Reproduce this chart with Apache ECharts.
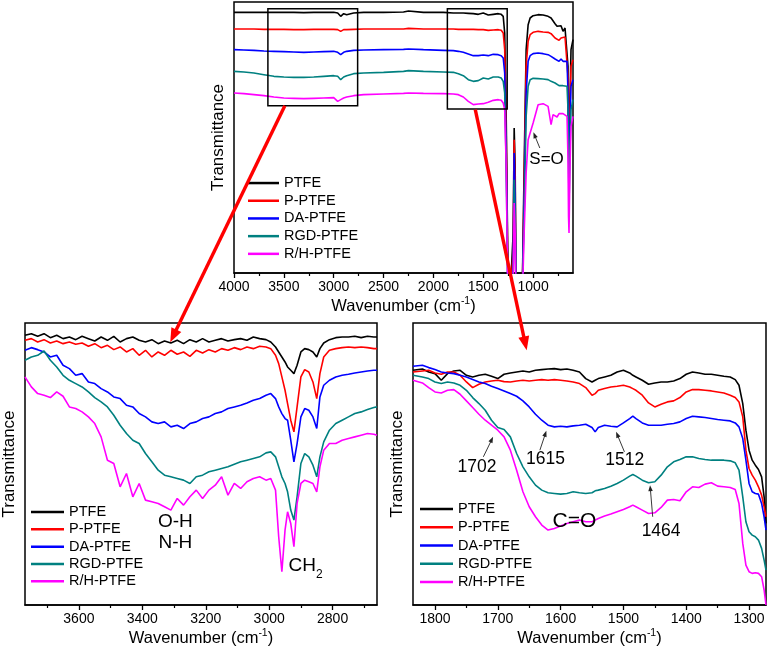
<!DOCTYPE html>
<html><head><meta charset="utf-8">
<script src="https://cdn.jsdelivr.net/npm/echarts@6/dist/echarts.min.js"></script>
<style>html,body{margin:0;padding:0;background:#fff}#c{width:767px;height:651px}</style>
</head><body><div id="c"></div>
<script>
// ---------- DATA ----------
const seriesNames = ['PTFE','P-PTFE','DA-PTFE','RGD-PTFE','R/H-PTFE'];
const seriesColors = ['#000000','#ff0000','#0000ff','#008080','#ff00ff'];

// Top panel: full spectrum (wavenumber, cm-1) / transmittance (a.u., offset)
const topWavenumbers = [4000,3900,3800,3700,3600,3500,3400,3300,3200,3100,3000,2960,2930,2900,2870,2850,2800,2700,2500,2300,2250,2100,1900,1800,1750,1700,1650,1600,1550,1500,1450,1400,1350,1320,1300,1285,1270,1255,1240,1220,1200,1190,1180,1170,1150,1130,1110,1090,1070,1050,1030,1000,950,900,850,820,800,780,760,740,720,700,680,660,650,645,640,630,620,600];
const topPTFE = [86.2,86.2,86.2,86.2,86.2,86.2,86.2,86.1,86.2,86.2,86.2, 86,85,85.8,85.5,85.2,86,86.2,86.2,86.3,86.6,86.2, 86.2,86,86,86,85.9,85.8,85.6,86,85.4,85.6,85.8,85.6, 85,80,55,15,-5,-5,20,51.5,40,-5,-5,-5,0,40,75,82.5,84.5,85.2,85.5,85.4,85,84.5,84,82.8,82,81.5,82.2,80.5,81.5,81,70,55,40,60,75,78];
const topPPTFE = [81.2,81.2,81.2,81.1,81.1,81.1,81,81,81.1,81.1,81.1, 81,80.5,81,81,80.7,81.1,81.2,81.2,81.2,81.4,81.2, 81.2,81.2,81.1,81.1,81.1,81.1,81,81,80.8,80.9,81,80.8, 80,75,50,12,-5,-5,15,48,35,-5,-5,-5,0,35,70,77.5,79.5,80.2,80.5,80.3,80.2,79.8,79.2,78.5,78.2,77.8,78.5,78,78.8,78.2,67,52,37,57,70,72];
const topDAPTFE = [75,74.9,74.8,74.6,74.5,74.4,74.3,74.2,74.3,74.4,74.5, 74.2,73.5,74.2,74.5,74.3,74.8,74.9,75,75.1,75.2,75, 74.8,74.7,74.5,74.2,73.7,73.2,73.2,73.4,73.2,73.6,73.5,73.2, 72.5,68,45,8,-5,-5,10,44,30,-5,-5,-5,0,30,62,71.5,73.2,73.8,74,73.8,73.5,73,72.8,72.2,72,71.5,72.2,71.5,72,71.5,62,48,34,52,64,66];
const topRGDPTFE = [68.5,68.3,68,67.5,67,66.8,66.7,66.7,66.8,67,67.2, 67,66,66.8,67.2,67.2,67.8,68,68.2,68.5,68.7,68.5, 68.3,68.2,67.8,67.2,66,65.5,65.7,66.5,66.2,66.8,66.8,66.5, 65.5,62,40,5,-5,-5,5,36,25,-5,-5,-5,0,25,55,64,66,66.4,66.3,66.2,66,65.5,65.2,65,64.5,64.2,64.8,64.2,64.5,64,57,42,28,45,57,60];
const topRHPTFE = [62,61.8,61.5,61.2,60.8,60.5,60.4,60.3,60.4,60.5,60.6, 59.5,60,60.5,60.8,60.7,61.2,61.5,61.7,61.9,62,61.9, 61.8,61.7,61.5,60.8,59.5,58.5,58.7,58.8,59.2,59.8,60,59.8, 59,57,40,3,-5,-5,5,29,20,-5,-5,-5,-2,20,38,48,50,53,58.5,58.8,58,52.5,55.5,56,54.8,55.8,55.5,55.8,55.5,55,42,25,20,40,52,55];

// Bottom-left panel: 3770-2660 cm-1
const leftWavenumbers = [3770,3750,3730,3710,3690,3670,3650,3630,3610,3590,3570,3550,3530,3510,3490,3470,3450,3430,3410,3390,3370,3350,3330,3310,3290,3270,3250,3230,3210,3190,3170,3150,3130,3110,3090,3070,3050,3030,3010,2995,2980,2970,2960,2950,2942,2932,2922,2912,2900,2888,2875,2862,2850,2840,2828,2810,2790,2770,2750,2730,2710,2690,2670,2660];
const leftPTFE = [82.5,83,82.2,83,81.8,82.5,81.5,82,81.2,82.2,81.5,80.8,82,81,82.2,80.5,81.5,82,81,80.5,81.2,80,80.8,80.2,81,80,81.2,80.5,81.5,80.5,81,81.5,80.8,81.2,81.5,81,82,81.5,81.2, 80.5,79,77.5,76,74.5,73,72,71,73.5,77.5,78.5,78.2,77.5,76,78.5,80.2,81.2,81.8,82,82,82.2,81.8,82.2,82,82];
const leftPPTFE = [81,81.5,80.5,81.2,80.2,80.8,80,80.5,79.8,80.2,79.2,80,78.8,79.5,78.2,79,77.5,78.5,76.5,78,76,77.5,76.5,78,76.8,77.5,76.2,78,77.2,78.2,77.5,78.5,78,78.8,78.2,79,78.5,79.2,79, 78.5,76.5,74,70,66,62,57,53.5,61,70,72.2,71.5,68.5,63.5,71,76,78,78.5,78.8,79,78.8,79,78.8,78.5,78.5];
const leftDAPTFE = [78,78.8,78.2,77.5,76,76.5,73.5,72.5,70.5,71,68.5,68,66.5,65.5,64,63.5,61.5,61,59,58,56.5,56,56.5,55,55.5,54.5,56,56.5,57.5,58,59,59.5,60.5,61,61.5,62.2,63,63.5,64.5, 65,63.5,61,59,57.5,57,51,44.5,50,58,60.5,60,58,54.5,64,67.5,69,70,70.5,70.8,71.2,71.5,71.8,72,72];
const leftRGDPTFE = [75,76,76.5,77.8,75,73,70.5,69,68,67,65.5,63.8,62.5,61,58.5,55.5,53,51,50,47,44.5,42,40.5,40,39.5,39,38,40,40.5,41.5,42,42.5,43,43.8,44.5,45,45.5,46,47.2, 47.5,46,43,40,38,35.5,30,27,34,44,47,46,43.5,40,46,50.5,54,56,57,58,59,59.5,60.2,60.8,61];
const leftRHPTFE = [70,67,65,64.5,63.8,65.5,64.2,61,60.5,59.5,58,56,52,45,44,37,41,34,38,33,32.5,32,31,30,33.5,31.5,34,36,33.5,36,37.5,40,34.5,38,36.5,38.5,39.5,40,39, 39.5,36,22,11.5,24,29.5,26,19,32,38,39,38.5,38,35.5,43,48,50,50,51,51.5,52,52.5,53,52.8,52.5];

// Bottom-right panel: 1835-1273 cm-1
const rightWavenumbers = [1835,1820,1810,1800,1790,1780,1770,1760,1750,1740,1730,1720,1710,1700,1690,1680,1670,1660,1650,1640,1630,1620,1610,1600,1590,1580,1570,1560,1550,1545,1540,1530,1520,1510,1500,1490,1485,1480,1470,1460,1450,1440,1430,1420,1410,1400,1390,1380,1370,1360,1350,1340,1330,1322,1316,1310,1305,1300,1295,1290,1285,1280,1276,1273];
const rightPTFE = [72,72.4,71.5,71,69,71,71.8,72,70.5,70,70.5,70.8,70.2,69.5,70.8,71.2,71.5,71.8,71.5,72,72.2,72.4,72.5,72.2,72.4,72,71.5,69.5,68.5,69,69.5,70,70.5,71.5,72,71.2,70.5,70,69,67.8,68.2,68.5,68.5,68.8,69.5,70.8,71.5,71.2,70.8,70.8,70.5,70.2,70,69.2,67.5,62,54,48,45,43.5,42.2,40,34,26];
const rightPPTFE = [71.5,71.8,72,71.2,70.8,71.5,71.5,70.5,68.5,66.8,67.8,68.5,68.8,69,68.6,68.5,68.8,69,68.8,69,69.2,69,69.2,69,68.8,68.5,68,66.8,64.5,65,66,66.5,67,67.2,67.5,67,66.5,66,64.5,62.2,61,61.8,62.5,62.8,63.8,65.5,66.2,66.2,66,65.8,65.5,65.2,64.5,63.8,62.5,58,48,42.5,40.5,39,37,34.5,31,28];
const rightDAPTFE = [73.2,73.5,72.8,72.2,71.5,71.2,71,70.5,70,69.2,68.5,68,67.2,66.5,65.8,65,64.2,62.8,61,58.8,57,55.5,55,55.2,55,55.3,55.5,55.8,54.8,53.5,54.8,55.5,55.2,55,56.2,57.5,58.2,57.5,56.2,55.5,55.5,55.5,55.8,56,56.5,57.5,58.2,58,57.8,57.5,57.2,57,56.8,56.2,55,51.5,45,38,35.5,35,34.8,32,28,24];
const rightRGDPTFE = [70.5,70,69.5,68.5,68,68.5,68.2,67.5,66,63.8,62,60,57,54.8,54.2,52,47,43,40,37.5,36,35.2,35,34.8,35,35.5,35.2,35,35.2,35.8,36,36.5,37.2,38,39,40.2,40.7,40.2,39,38.2,38.5,40.5,43,44.5,45.2,46,46,45.5,45.2,45,45,45,44.8,44.2,42,34,26.5,23.5,22.5,22,21,18.5,15,12];
const rightRHPTFE = [69,68.2,66.8,65.5,65.2,66,66.2,64.8,62.8,60.8,58.8,57,55.5,54,52,48,42,35.5,31,28,25.5,24,24.5,25.2,26,26.5,27,26.5,26.5,27,27.5,28.2,28.8,29.5,30.2,31,31.5,31,30,29,29.2,30.8,33,33.2,32.8,35.5,37,36.8,37.8,38.2,37.2,37,36.8,36.2,32,20,13.5,11.5,11,11.2,11,10,6,1.5];

// Tick labels
const topMajorTicks = [4000,3500,3000,2500,2000,1500,1000];
const topMinorTicks = [3750,3250,2750,2250,1750,1250,750];
const leftMajorTicks = [3600,3400,3200,3000,2800];
const leftMinorTicks = [3700,3500,3300,3100,2900,2700];
const rightMajorTicks = [1800,1700,1600,1500,1400,1300];
const rightMinorTicks = [1750,1650,1550,1450,1350];

// Annotations (data coordinates: panel, wavenumber, transmittance)
const noteTexts = [
  {panel:0, text:'S=O', wn:865, t:42, size:17},
  {panel:1, text:'O-H', wn:3296, t:26.4, size:19},
  {panel:1, text:'N-H', wn:3296, t:20.3, size:19},
  {panel:1, text:'CH{sub|2}', wn:2885, t:13.4, size:19},
  {panel:2, text:'1702', wn:1733, t:42.9, size:17.5},
  {panel:2, text:'1615', wn:1624, t:45.3, size:17.5},
  {panel:2, text:'1512', wn:1498, t:45, size:17.5},
  {panel:2, text:'1464', wn:1440, t:23.7, size:17.5},
  {panel:2, text:'C=O', wn:1578, t:26.7, size:21}
];
const pointerArrows = [
  {panel:0, fromWn:933, fromT:45.5, toWn:997, toT:50.2},
  {panel:2, fromWn:1723, fromT:46, toWn:1707.5, toT:52},
  {panel:2, fromWn:1633, fromT:48, toWn:1622.7, toT:53.8},
  {panel:2, fromWn:1498.4, fromT:47.5, toWn:1511.6, toT:53.5},
  {panel:2, fromWn:1453.4, fromT:28, toWn:1457.6, toT:37.5}
];
const zoomBoxes = [
  {fromWn:3660, toWn:2760, lowT:58.2, highT:87.3},
  {fromWn:1860, toWn:1260, lowT:57.2, highT:87.3}
];
const linkArrows = [
  {fromWn:3490, fromT:58.2, toPanel:1, toWn:3312, toT:80.4},
  {fromWn:1580, fromT:57, toPanel:2, toWn:1654, toT:78}
];

// ---------- CHART ----------
const FONT = "'Liberation Sans', Arial, Helvetica, sans-serif";
const chart = echarts.init(document.getElementById('c'), null, {renderer:'canvas'});

const panels = [
  {xs: topWavenumbers, ys:[topPTFE,topPPTFE,topDAPTFE,topRGDPTFE,topRHPTFE], min:600, max:4000, ymin:8, ymax:89.3, majors:topMajorTicks, minors:topMinorTicks,
   grid:{left:234, top:2, width:339, height:271}, legend:{left:248, top:174.2, itemWidth:31, lh:17.7}},
  {xs: leftWavenumbers, ys:[leftPTFE,leftPPTFE,leftDAPTFE,leftRGDPTFE,leftRHPTFE], min:2660, max:3770, ymin:1.5, ymax:86.2, majors:leftMajorTicks, minors:leftMinorTicks,
   grid:{left:25, top:323, width:352, height:282}, legend:{left:31, top:503.4, itemWidth:33, lh:17.3}},
  {xs: rightWavenumbers, ys:[rightPTFE,rightPPTFE,rightDAPTFE,rightRGDPTFE,rightRHPTFE], min:1273, max:1835, ymin:1.5, ymax:86.2, majors:rightMajorTicks, minors:rightMinorTicks,
   grid:{left:413, top:323, width:353, height:282}, legend:{left:420, top:500, itemWidth:33, lh:18.2}}
];

const grids = [], xAxes = [], yAxes = [], series = [], legends = [];
panels.forEach((p, g) => {
  grids.push(Object.assign({show:true, borderColor:'#000', borderWidth:1.5, backgroundColor:'transparent', containLabel:false, outerBoundsMode:'none'}, p.grid));
  xAxes.push({
    type:'value', gridIndex:g, inverse:true, min:p.min, max:p.max, position:'bottom',
    name:'Wavenumber (cm{sup|-1})', nameLocation:'middle', nameGap:23,
    nameTextStyle:{fontSize:16.5, color:'#000', fontFamily:FONT, lineHeight:20, rich:{sup:{fontSize:10.5, color:'#000', fontFamily:FONT, verticalAlign:'top'}}},
    axisLine:{show:true, onZero:false, lineStyle:{color:'#000', width:1.5}},
    axisTick:{show:true, inside:false, length:5, customValues:p.majors, lineStyle:{color:'#000', width:1.3}},
    axisLabel:{show:true, customValues:p.majors, fontSize:14, color:'#000', margin:7, fontFamily:FONT, formatter: v => String(v)},
    splitLine:{show:false}, minorTick:{show:false}
  });
  xAxes.push({
    type:'value', gridIndex:g, inverse:true, min:p.min, max:p.max, position:'bottom',
    axisLine:{show:false, onZero:false}, axisLabel:{show:false},
    axisTick:{show:true, inside:false, length:3, customValues:p.minors, lineStyle:{color:'#000', width:1.2}},
    splitLine:{show:false}
  });
  yAxes.push({
    type:'value', gridIndex:g, min:p.ymin, max:p.ymax,
    name:'Transmittance', nameLocation:'middle', nameGap:7,
    nameTextStyle:{fontSize:17, color:'#000', fontFamily:FONT},
    axisLine:{show:false}, axisTick:{show:false}, axisLabel:{show:false}, splitLine:{show:false}
  });
  seriesNames.forEach((n, i) => {
    series.push({
      type:'line', name:n, xAxisIndex:g*2, yAxisIndex:g,
      data:p.xs.map((x, k) => [x, p.ys[i][k]]),
      symbol:'none', showSymbol:false, clip:true, animation:false, silent:true,
      lineStyle:{color:seriesColors[i], width:1.6}, itemStyle:{color:seriesColors[i]}
    });
  });
  legends.push({
    data:seriesNames, orient:'vertical', left:p.legend.left, top:p.legend.top, padding:0,
    itemWidth:p.legend.itemWidth, itemHeight:2.5, itemGap:0, icon:'rect', selectedMode:false,
    textStyle:{fontSize:14.5, color:'#000', fontFamily:FONT, lineHeight:p.legend.lh}
  });
});

chart.setOption({
  animation:false,
  backgroundColor:'#fff',
  textStyle:{fontFamily:FONT},
  color:seriesColors,
  grid:grids, xAxis:xAxes, yAxis:yAxes, legend:legends, series:series
});

// ---------- annotations anchored to data ----------
function toPx(panel, wn, t) { return chart.convertToPixel({seriesIndex: panel*5}, [wn, t]); }
function arrowEls(p0, p1, color, lw, headLen, headW) {
  const dx = p1[0]-p0[0], dy = p1[1]-p0[1], L = Math.hypot(dx, dy);
  const ux = dx/L, uy = dy/L, nx = -uy, ny = ux;
  const b = [p1[0]-ux*headLen, p1[1]-uy*headLen];
  return [
    {type:'line', z:100, silent:true, shape:{x1:p0[0], y1:p0[1], x2:b[0]+ux*1, y2:b[1]+uy*1}, style:{stroke:color, lineWidth:lw}},
    {type:'polygon', z:100, silent:true, shape:{points:[[p1[0],p1[1]],[b[0]+nx*headW/2, b[1]+ny*headW/2],[b[0]-nx*headW/2, b[1]-ny*headW/2]]}, style:{fill:color}}
  ];
}
const gfx = [];
zoomBoxes.forEach(b => {
  const a = toPx(0, b.fromWn, b.highT), c = toPx(0, b.toWn, b.lowT);
  gfx.push({type:'rect', z:90, silent:true, shape:{x:Math.min(a[0],c[0]), y:Math.min(a[1],c[1]), width:Math.abs(c[0]-a[0]), height:Math.abs(c[1]-a[1])},
    style:{fill:null, stroke:'#000', lineWidth:1.5}});
});
linkArrows.forEach(a => {
  gfx.push(...arrowEls(toPx(0, a.fromWn, a.fromT), toPx(a.toPanel, a.toWn, a.toT), '#ff0000', 3.4, 14, 11));
});
pointerArrows.forEach(a => {
  gfx.push(...arrowEls(toPx(a.panel, a.fromWn, a.fromT), toPx(a.panel, a.toWn, a.toT), '#222', 0.9, 6, 4.5));
});
noteTexts.forEach(n => {
  const p = toPx(n.panel, n.wn, n.t);
  gfx.push({type:'text', z:95, silent:true, x:p[0], y:p[1], style:{
    text:n.text, fill:'#000', fontSize:n.size, fontFamily:FONT, align:'center', verticalAlign:'middle',
    lineHeight: n.text.indexOf('{sub') >= 0 ? 30 : n.size,
    rich:{sub:{fontSize:12, fontFamily:FONT, fill:'#000', verticalAlign:'bottom', lineHeight:30}}
  }});
});
chart.setOption({graphic:gfx});
</script>
</body></html>
